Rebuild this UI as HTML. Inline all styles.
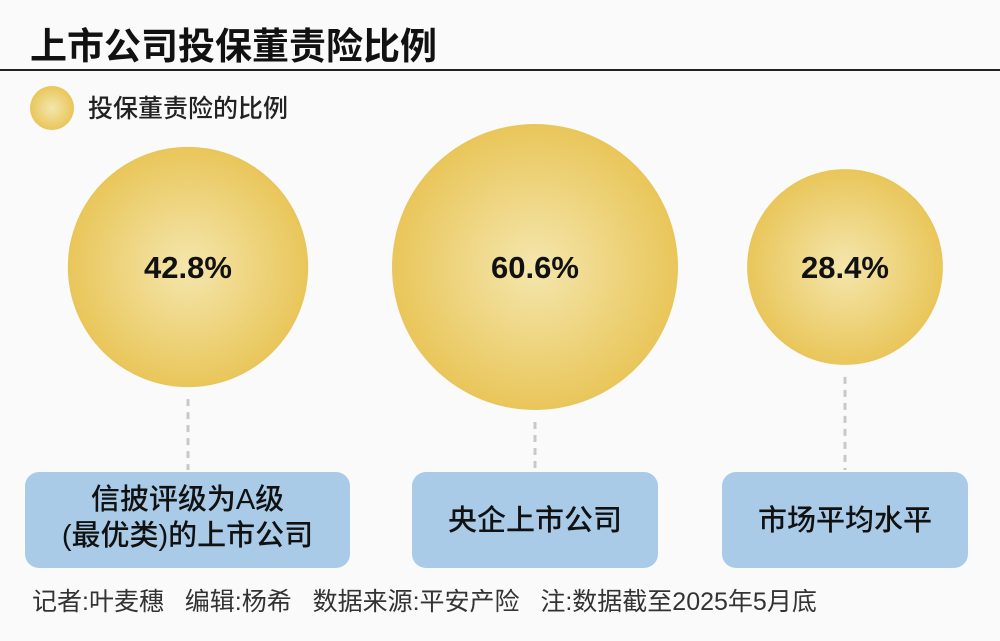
<!DOCTYPE html>
<html><head><meta charset="utf-8">
<style>
body{margin:0;width:1000px;height:636px;background:#fafafa;overflow:hidden;font-family:"Liberation Sans","Noto Sans CJK SC",sans-serif;}
</style></head>
<body>
<svg id="chart" width="1000" height="636" xmlns="http://www.w3.org/2000/svg">
<defs>
<radialGradient id="g" cx="50%" cy="50%" r="50%">
<stop offset="0%" stop-color="#f4e6ad"/>
<stop offset="100%" stop-color="#e9c65a"/>
</radialGradient>
</defs>
<text x="30" y="59" font-size="37" font-weight="bold" fill="#111" font-family="Liberation Sans, Noto Sans CJK SC, sans-serif">上市公司投保董责险比例</text>
<rect x="0" y="69" width="1000" height="2" fill="#222"/>
<circle cx="52" cy="108" r="22" fill="url(#g)"/>
<text x="88" y="117" font-size="25" font-weight="500" fill="#222" font-family="Liberation Sans, Noto Sans CJK SC, sans-serif">投保董责险的比例</text>
<text x="32" y="610" font-size="25" fill="#333" style="white-space:pre" xml:space="preserve" font-family="Liberation Sans, Noto Sans CJK SC, sans-serif">记者:叶麦穗   编辑:杨希   数据来源:平安产险   注:数据截至2025年5月底</text>
<g id="marks"></g>
</svg>
<script>
const categories=["信披评级为A级|(最优类)的上市公司","央企上市公司","市场平均水平"];
const values=[42.8,60.6,28.4];
const labels=["42.8%","60.6%","28.4%"];
const NS="http://www.w3.org/2000/svg";
const g=document.getElementById('marks');
const cxs=[188,535,845];
const boxes=[[25,325],[412,246],[722,246]];
const cy=267;
function rScale(v){return 143*Math.sqrt(v/60.6);}
function mk(t,a){const e=document.createElementNS(NS,t);for(const k in a)e.setAttribute(k,a[k]);g.appendChild(e);return e;}
values.forEach((v,i)=>{
  const r=rScale(v),cx=cxs[i];
  const ln=mk('line',{x1:cx,x2:cx,y1:cy+r+12,y2:470,stroke:'#c8c8c8','stroke-width':3,'stroke-dasharray':'7,6'});
  
  
  const c=mk('circle',{cx:cx,cy:cy,r:r,fill:'url(#g)'});
  
  
  const t=mk('text',{x:cx,y:cy+11,'text-anchor':'middle','font-size':31,'font-weight':'bold',fill:'#111','font-family':'Liberation Sans, sans-serif'});
  t.textContent=labels[i];
  
  
  const b=boxes[i];
  const rc=mk('rect',{x:b[0],y:472,width:b[1],height:96,rx:14,fill:'#a9cbe7'});
  
  
  const lines=categories[i].split('|');
  lines.forEach((s,j)=>{
    const y=lines.length==1?530:509+j*36;
    const tt=mk('text',{x:b[0]+b[1]/2,y:y,'text-anchor':'middle','font-size':29,'font-weight':500,fill:'#111','font-family':'Liberation Sans, Noto Sans CJK SC, sans-serif'});
    tt.textContent=s;
    
    
  });
});
</script>
</body></html>
